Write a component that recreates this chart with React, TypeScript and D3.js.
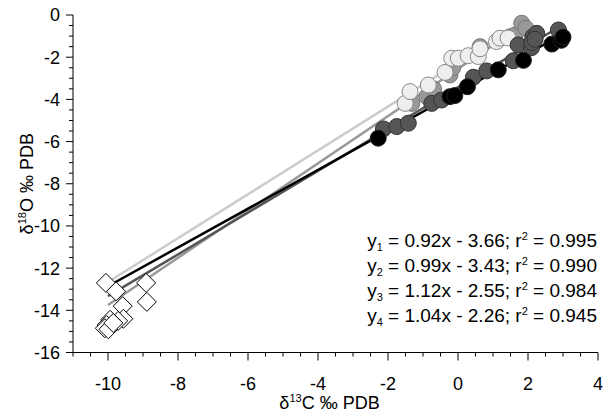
import React from "react";
import * as d3 from "d3";

const W = 606;
const H = 412;

const xDomain: [number, number] = [-11, 4];
const yDomain: [number, number] = [-16, 0];
const xMajorTicks = [-10, -8, -6, -4, -2, 0, 2, 4];
const yMajorTicks = [0, -2, -4, -6, -8, -10, -12, -14, -16];

// Regression fits (slope, intercept, r2, x range drawn)
const fitSlopes = [0.92, 0.99, 1.12, 1.04];
const fitIntercepts = [-3.66, -3.43, -2.55, -2.26];
const fitR2 = ["0.995", "0.990", "0.984", "0.945"];
const fitXStart = [-10, -10, -10, -10];
const fitXEnd = [3.0, 2.9, 1.9, 1.45];
const fitColors = ["#000000", "#555555", "#999999", "#cccccc"];

// Carbonate samples (circles), one array per group
const group1: [number, number][] = [
  [-2.28, -5.84], [-0.23, -3.87], [-0.09, -3.82], [0.27, -3.4], [1.15, -2.6],
  [1.87, -2.15], [2.68, -1.38], [2.95, -1.2], [3.0, -1.05],
];
const group2: [number, number][] = [
  [-2.13, -5.4], [-1.75, -5.29], [-1.42, -5.13], [-0.75, -4.19], [-0.47, -4.03],
  [0.44, -2.95], [0.82, -2.65], [1.58, -2.17], [1.72, -1.42], [2.1, -1.55],
  [2.14, -1.03], [2.25, -0.87], [2.11, -1.3], [2.2, -1.15], [2.87, -0.71],
];
const group3: [number, number][] = [
  [-1.32, -4.19], [-0.89, -3.87], [-0.7, -3.5], [-0.23, -2.84], [-0.15, -2.5],
  [0.63, -1.5], [1.49, -1.03], [1.63, -0.95], [1.82, -0.39], [1.94, -0.63],
];
const group4: [number, number][] = [
  [-1.51, -4.19], [-1.37, -3.63], [-0.85, -3.32], [-0.37, -2.72], [-0.18, -2.05],
  [0.01, -2.05], [0.29, -1.93], [0.58, -1.97], [0.63, -1.6], [1.1, -1.26],
  [1.2, -1.1], [1.43, -1.09],
];

// Cement samples (open diamonds)
const cements: [number, number][] = [
  [-10.06, -12.7], [-9.77, -13.1], [-8.91, -12.7], [-8.89, -13.6], [-9.58, -13.8],
  [-9.56, -14.4], [-9.71, -14.5], [-9.94, -14.45], [-10.04, -14.7], [-10.09, -14.85],
  [-9.99, -14.9], [-9.85, -14.6],
];

const groupFills = ["#000000", "#555555", "#999999", "#eeeeee"];
const groupStrokes = ["#222222", "#333333", "#777777", "#888888"];

export default function App() {
  const left = 73, right = 598, top = 15, bottom = 352.5;
  const x = d3.scaleLinear().domain(xDomain).range([left, right]);
  const y = d3.scaleLinear().domain(yDomain).range([bottom, top]);
  const xMinor = d3.range(-11, 4.001, 0.5);
  const yMinor = d3.range(-16, 0.001, 0.5);
  const font = "'Liberation Sans', Arial, sans-serif";

  const groups = [group1, group2, group3, group4];
  const drawOrder = [2, 3, 1, 0];
  const r = 8;
  const dsz = 9.5;

  return (
    <svg width={W} height={H} style={{ position: "absolute", left: 0, top: 0 }} fontFamily={font}>
      <rect width={W} height={H} fill="#fff" />
      {/* regression lines */}
      {fitSlopes.map((m, i) => {
        const line = d3.line<number>().x((v) => x(v)).y((v) => y(m * v + fitIntercepts[i]));
        return (
          <path key={"f" + i} d={line([fitXStart[i], fitXEnd[i]]) || ""} stroke={fitColors[i]} strokeWidth={2.5} fill="none" />
        );
      }).reverse()}
      {/* diamonds */}
      {cements.map(([cx, cy], i) => (
        <path key={"d" + i}
          d={`M${x(cx)},${y(cy) - dsz}L${x(cx) + dsz},${y(cy)}L${x(cx)},${y(cy) + dsz}L${x(cx) - dsz},${y(cy)}Z`}
          fill="#fff" stroke="#000" strokeWidth={1} />
      ))}
      {/* circles */}
      {drawOrder.map((g) =>
        groups[g].map(([cx, cy], i) => (
          <circle key={`c${g}-${i}`} cx={x(cx)} cy={y(cy)} r={r} fill={groupFills[g]} stroke={groupStrokes[g]} strokeWidth={1} />
        ))
      )}
      {/* axes */}
      <line x1={left} x2={left} y1={top} y2={bottom} stroke="#000" strokeWidth={1} />
      <line x1={left} x2={right} y1={bottom} y2={bottom} stroke="#000" strokeWidth={1} />
      {yMinor.map((v) => {
        const major = Math.abs(v % 2) < 1e-9;
        return <line key={"ym" + v} x1={left - (major ? 7 : 4)} x2={left} y1={y(v)} y2={y(v)} stroke="#000" />;
      })}
      {xMinor.map((v) => {
        const major = Math.abs(v % 2) < 1e-9;
        return <line key={"xm" + v} x1={x(v)} x2={x(v)} y1={bottom} y2={bottom + (major ? 8 : 4)} stroke="#000" />;
      })}
      {yMajorTicks.map((v) => (
        <text key={"yl" + v} x={left - 13} y={y(v)} dy="0.36em" textAnchor="end" fontSize={18}>{v}</text>
      ))}
      {xMajorTicks.map((v) => (
        <text key={"xl" + v} x={x(v)} y={390} textAnchor="middle" fontSize={18}>{v}</text>
      ))}
      <text x={(left + right) / 2 - 6} y={409} textAnchor="middle" fontSize={18}>
        δ<tspan fontSize={11} dy={-7}>13</tspan><tspan dy={7}>C ‰ PDB</tspan>
      </text>
      <text transform={`translate(33,${(top + bottom) / 2}) rotate(-90)`} textAnchor="middle" fontSize={18}>
        δ<tspan fontSize={11} dy={-7}>18</tspan><tspan dy={7}>O ‰ PDB</tspan>
      </text>
      {/* equations */}
      {fitSlopes.map((m, i) => (
        <text key={"eq" + i} x={597} y={247 + i * 25} textAnchor="end" fontSize={19}>
          y<tspan fontSize={11} dy={4}>{i + 1}</tspan>
          <tspan dy={-4}>{` = ${m.toFixed(2)}x - ${Math.abs(fitIntercepts[i]).toFixed(2)}; r`}</tspan>
          <tspan fontSize={11} dy={-7}>2</tspan>
          <tspan dy={7}>{` = ${fitR2[i]}`}</tspan>
        </text>
      ))}
    </svg>
  );
}
